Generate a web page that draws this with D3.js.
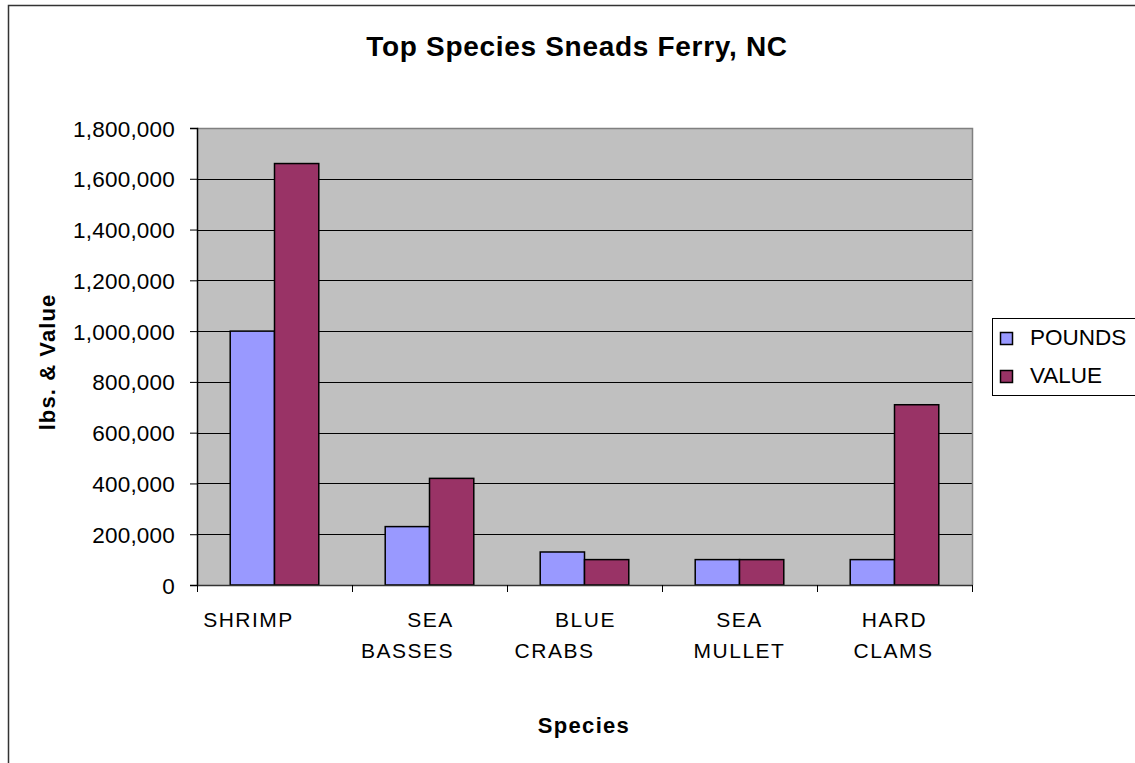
<!DOCTYPE html>
<html>
<head>
<meta charset="utf-8">
<script src="https://cdn.jsdelivr.net/npm/d3@7"></script>
<style>
  html, body { margin: 0; padding: 0; background: #fff; }
  svg { display: block; }
  text { font-family: "Liberation Sans", Arial, sans-serif; fill: #000; }
</style>
</head>
<body>
<svg id="chart" width="1135" height="763"></svg>
<script>
// Landings by species: pounds and dollar value
const species = ["SHRIMP", "SEA BASSES", "BLUE CRABS", "SEA MULLET", "HARD CLAMS"];
const speciesLines = [["SHRIMP"], ["SEA", "BASSES"], ["BLUE", "CRABS"], ["SEA", "MULLET"], ["HARD", "CLAMS"]];
const seriesNames = ["POUNDS", "VALUE"];
const pounds = [1000000, 230000, 130000, 100000, 100000];
const value = [1660000, 420000, 100000, 100000, 710000];
const yTicks = [0, 200000, 400000, 600000, 800000, 1000000, 1200000, 1400000, 1600000, 1800000];

const colors = { POUNDS: "#9999FF", VALUE: "#993366" };

const svg = d3.select("#chart");
const W = 1135, H = 763;
const plot = { left: 197, top: 128, right: 972, bottom: 585 };

// outer chart frame (runs off the right and bottom edges)
svg.append("rect")
  .attr("x", 8.5).attr("y", 5.5)
  .attr("width", W + 20).attr("height", H + 20)
  .attr("fill", "#fff").attr("stroke", "#333").attr("stroke-width", 1.5);

const x = d3.scaleBand().domain(species).range([plot.left, plot.right]).paddingInner(0).paddingOuter(0);
const xs = d3.scaleBand().domain(seriesNames).range([0, x.bandwidth()]).paddingInner(0).paddingOuter(0.75);
const y = d3.scaleLinear().domain([0, 1800000]).range([plot.bottom, plot.top]);

// plot background
svg.append("rect")
  .attr("x", plot.left).attr("y", plot.top)
  .attr("width", plot.right - plot.left).attr("height", plot.bottom - plot.top)
  .attr("fill", "#C0C0C0");

// gridlines
svg.append("g").selectAll("line")
  .data(yTicks.filter(t => t > 0 && t < 1800000))
  .join("line")
  .attr("x1", plot.left).attr("x2", plot.right)
  .attr("y1", d => Math.round(y(d)) + 0.5).attr("y2", d => Math.round(y(d)) + 0.5)
  .attr("stroke", "#000").attr("stroke-width", 1);

// plot border (top and right)
svg.append("path")
  .attr("d", `M${plot.left},${plot.top + 0.5}H${plot.right + 0.5}V${plot.bottom}`)
  .attr("fill", "none").attr("stroke", "#808080").attr("stroke-width", 1.5);

// bars
const rows = species.map((s, i) => ({ s, vals: [
  { k: "POUNDS", v: pounds[i] },
  { k: "VALUE", v: value[i] }
] }));

const groups = svg.append("g").selectAll("g")
  .data(rows).join("g")
  .attr("transform", d => `translate(${x(d.s)},0)`);

groups.selectAll("rect")
  .data(d => d.vals).join("rect")
  .attr("x", d => xs(d.k))
  .attr("y", d => y(d.v))
  .attr("width", xs.bandwidth())
  .attr("height", d => y(0) - y(d.v))
  .attr("fill", d => colors[d.k])
  .attr("stroke", "#000").attr("stroke-width", 1.5);

// y axis
const yAxis = d3.axisLeft(y).tickValues(yTicks).tickSize(7).tickPadding(15)
  .tickFormat(d3.format(","));
const gy = svg.append("g").attr("transform", `translate(${plot.left},0)`).call(yAxis);
gy.select(".domain").attr("stroke", "#000").attr("stroke-width", 1.5);
gy.selectAll(".tick line").attr("stroke", "#000").attr("stroke-width", 1);
gy.selectAll(".tick text")
  .attr("font-size", 22.5).style("letter-spacing", "0.2px")
  .attr("font-family", "Liberation Sans, Arial, sans-serif")
  .attr("dy", "0.36em");

// x axis
const xAxis = d3.axisBottom(x).tickSize(0).tickFormat("");
const gx = svg.append("g").attr("transform", `translate(0,${plot.bottom})`).call(xAxis);
gx.select(".domain").attr("stroke", "#333").attr("stroke-width", 1.5);
gx.selectAll(".tick").remove();
// ticks between categories
const bounds = species.map(s => x(s)).concat([x(species[species.length - 1]) + x.bandwidth()]);
gx.selectAll("line.sep").data(bounds).join("line")
  .attr("class", "sep")
  .attr("x1", d => Math.round(d) + 0.5).attr("x2", d => Math.round(d) + 0.5)
  .attr("y1", 0).attr("y2", 7)
  .attr("stroke", "#000").attr("stroke-width", 1);

// category labels (wrapped onto two lines)
const lineNudge = [[-26], [1, -22], [1, -30], [0, 0], [0, -1]];
const labels = svg.append("g").selectAll("text")
  .data(speciesLines).join("text")
  .attr("font-size", 21).style("letter-spacing", "1.5px")
  .attr("text-anchor", "middle");
labels.each(function(lines, i) {
  const cx = x(species[i]) + x.bandwidth() / 2;
  d3.select(this).selectAll("tspan").data(lines).join("tspan")
    .attr("x", (d, j) => cx + lineNudge[i][j])
    .attr("y", (d, j) => 627 + j * 31)
    .text(d => d);
});

// titles
svg.append("text")
  .attr("x", 577).attr("y", 56)
  .attr("text-anchor", "middle")
  .attr("font-size", 28).attr("font-weight", "bold")
  .style("letter-spacing", "0.7px")
  .text("Top Species Sneads Ferry, NC");

svg.append("text")
  .attr("x", 584).attr("y", 733)
  .attr("text-anchor", "middle")
  .attr("font-size", 22).attr("font-weight", "bold")
  .style("letter-spacing", "1.3px")
  .text("Species");

svg.append("text")
  .attr("transform", `translate(55,362) rotate(-90)`)
  .attr("text-anchor", "middle")
  .attr("font-size", 22).attr("font-weight", "bold")
  .style("letter-spacing", "1.1px")
  .text("lbs. & Value");

// legend
const lg = svg.append("g").attr("transform", "translate(992,318)");
lg.append("rect")
  .attr("x", 0.5).attr("y", 0.5).attr("width", 200).attr("height", 77)
  .attr("fill", "#fff").attr("stroke", "#000").attr("stroke-width", 1);
const items = lg.selectAll("g.item").data(seriesNames).join("g")
  .attr("class", "item")
  .attr("transform", (d, i) => `translate(0,${14 + i * 38})`);
items.append("rect")
  .attr("x", 8.5).attr("y", 0.5).attr("width", 12).attr("height", 12)
  .attr("fill", d => colors[d]).attr("stroke", "#000").attr("stroke-width", 1.5);
items.append("text")
  .attr("x", 38).attr("y", 13)
  .attr("font-size", 22.5)
  .text(d => d);
</script>
</body>
</html>
